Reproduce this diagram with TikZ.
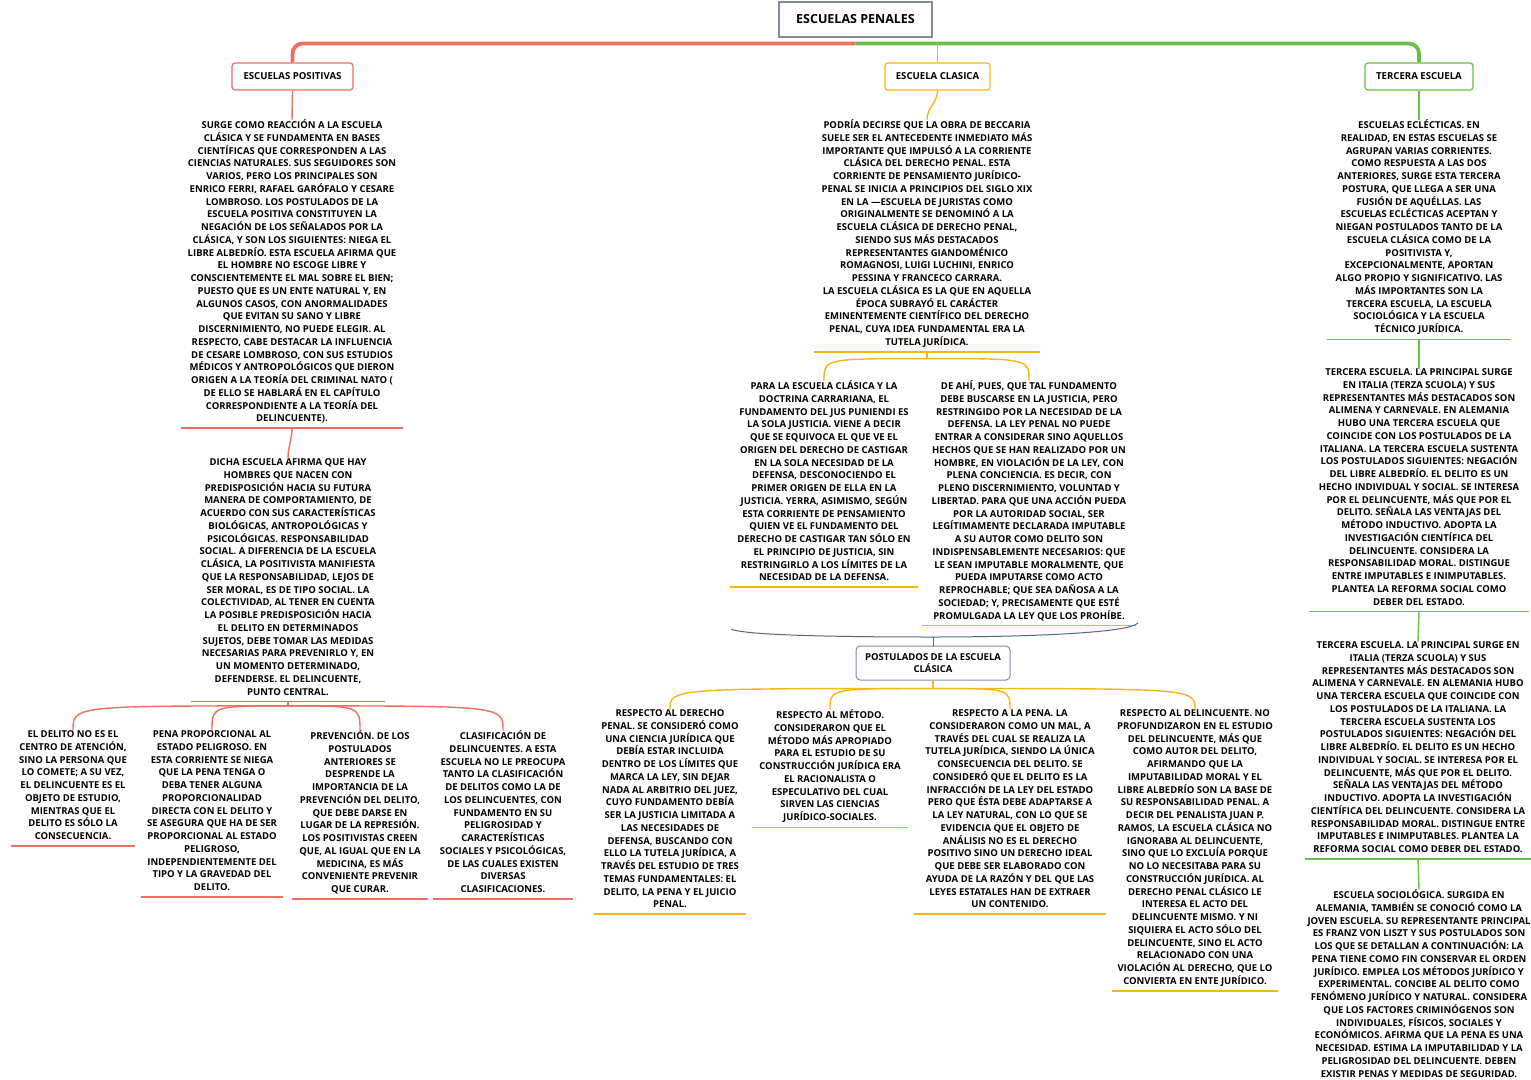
\documentclass[tikz,border=0pt]{standalone}
\usepackage{fontspec}
\setmainfont{Open Sans}
\usetikzlibrary{calc}
\definecolor{rojo}{RGB}{240,110,92}
\definecolor{oro}{RGB}{246,183,20}
\definecolor{verde}{RGB}{108,190,72}
\definecolor{gris}{RGB}{130,140,160}
\definecolor{pizarra}{RGB}{88,100,128}
\newcommand{\rayita}[2]{\draw[#1,line width=1.4pt] ($(#2.south west)+(0,4.5)$) -- ($(#2.south east)+(0,4.5)$);}

\begin{document}
\begin{tikzpicture}[x=1pt,y=-1pt]
  \tikzstyle{texto}=[font=\fontsize{9.5}{12.75}\selectfont\bfseries,align=center,inner sep=0pt,anchor=north,execute at begin node={\vphantom{Á}},execute at end node={\vphantom{(}}]
  \tikzstyle{caja}=[draw,rounded corners=3pt,line width=1.2pt,fill=white,font=\fontsize{9.6}{11}\selectfont\bfseries,minimum height=27pt,inner sep=0pt]
  \tikzstyle{rama}=[line width=1.4pt]
  \useasboundingbox[fill=white] (0,0) rectangle (1531,1079);

  \node[draw=gris,line width=1.1pt,minimum width=153pt,minimum height=35pt,font=\fontsize{12.5}{14}\selectfont\bfseries] (tit) at (855.5,19.5) {ESCUELAS PENALES};
  \node[caja,draw=rojo,minimum width=121pt] (pos) at (292.5,76.5) {ESCUELAS POSITIVAS};
  \node[caja,draw=oro,minimum width=105pt] (cla) at (937.5,76.5) {ESCUELA CLASICA};
  \node[caja,draw=verde,minimum width=108pt] (ter) at (1419,76.5) {TERCERA ESCUELA};

  \node[texto,minimum width=222pt] (l1) at (292,119.6) {SURGE COMO REACCIÓN A LA ESCUELA\\CLÁSICA Y SE FUNDAMENTA EN BASES\\CIENTÍFICAS QUE CORRESPONDEN A LAS\\CIENCIAS NATURALES. SUS SEGUIDORES SON\\VARIOS, PERO LOS PRINCIPALES SON\\ENRICO FERRI, RAFAEL GARÓFALO Y CESARE\\LOMBROSO. LOS POSTULADOS DE LA\\ESCUELA POSITIVA CONSTITUYEN LA\\NEGACIÓN DE LOS SEÑALADOS POR LA\\CLÁSICA, Y SON LOS SIGUIENTES: NIEGA EL\\LIBRE ALBEDRÍO. ESTA ESCUELA AFIRMA QUE\\EL HOMBRE NO ESCOGE LIBRE Y\\CONSCIENTEMENTE EL MAL SOBRE EL BIEN;\\PUESTO QUE ES UN ENTE NATURAL Y, EN\\ALGUNOS CASOS, CON ANORMALIDADES\\QUE EVITAN SU SANO Y LIBRE\\DISCERNIMIENTO, NO PUEDE ELEGIR. AL\\RESPECTO, CABE DESTACAR LA INFLUENCIA\\DE CESARE LOMBROSO, CON SUS ESTUDIOS\\MÉDICOS Y ANTROPOLÓGICOS QUE DIERON\\ORIGEN A LA TEORÍA DEL CRIMINAL NATO (\\DE ELLO SE HABLARÁ EN EL CAPÍTULO\\CORRESPONDIENTE A LA TEORÍA DEL\\DELINCUENTE).};
  \node[texto,minimum width=193pt] (l2) at (288,458.6) {DICHA ESCUELA AFIRMA QUE HAY\\HOMBRES QUE NACEN CON\\PREDISPOSICIÓN HACIA SU FUTURA\\MANERA DE COMPORTAMIENTO, DE\\ACUERDO CON SUS CARACTERÍSTICAS\\BIOLÓGICAS, ANTROPOLÓGICAS Y\\PSICOLÓGICAS. RESPONSABILIDAD\\SOCIAL. A DIFERENCIA DE LA ESCUELA\\CLÁSICA, LA POSITIVISTA MANIFIESTA\\QUE LA RESPONSABILIDAD, LEJOS DE\\SER MORAL, ES DE TIPO SOCIAL. LA\\COLECTIVIDAD, AL TENER EN CUENTA\\LA POSIBLE PREDISPOSICIÓN HACIA\\EL DELITO EN DETERMINADOS\\SUJETOS, DEBE TOMAR LAS MEDIDAS\\NECESARIAS PARA PREVENIRLO Y, EN\\UN MOMENTO DETERMINADO,\\DEFENDERSE. EL DELINCUENTE,\\PUNTO CENTRAL.};
  \node[texto,minimum width=123pt] (b1) at (73,730.6) {EL DELITO NO ES EL\\CENTRO DE ATENCIÓN,\\SINO LA PERSONA QUE\\LO COMETE; A SU VEZ,\\EL DELINCUENTE ES EL\\OBJETO DE ESTUDIO,\\MIENTRAS QUE EL\\DELITO ES SÓLO LA\\CONSECUENCIA.};
  \node[texto,minimum width=141pt] (b2) at (212,730.6) {PENA PROPORCIONAL AL\\ESTADO PELIGROSO. EN\\ESTA CORRIENTE SE NIEGA\\QUE LA PENA TENGA O\\DEBA TENER ALGUNA\\PROPORCIONALIDAD\\DIRECTA CON EL DELITO Y\\SE ASEGURA QUE HA DE SER\\PROPORCIONAL AL ESTADO\\PELIGROSO,\\INDEPENDIENTEMENTE DEL\\TIPO Y LA GRAVEDAD DEL\\DELITO.};
  \node[texto,minimum width=135pt] (b3) at (360,730.6) {PREVENCIÓN. DE LOS\\POSTULADOS\\ANTERIORES SE\\DESPRENDE LA\\IMPORTANCIA DE LA\\PREVENCIÓN DEL DELITO,\\QUE DEBE DARSE EN\\LUGAR DE LA REPRESIÓN.\\LOS POSITIVISTAS CREEN\\QUE, AL IGUAL QUE EN LA\\MEDICINA, ES MÁS\\CONVENIENTE PREVENIR\\QUE CURAR.};
  \node[texto,minimum width=139pt] (b4) at (503,730.6) {CLASIFICACIÓN DE\\DELINCUENTES. A ESTA\\ESCUELA NO LE PREOCUPA\\TANTO LA CLASIFICACIÓN\\DE DELITOS COMO LA DE\\LOS DELINCUENTES, CON\\FUNDAMENTO EN SU\\PELIGROSIDAD Y\\CARACTERÍSTICAS\\SOCIALES Y PSICOLÓGICAS,\\DE LAS CUALES EXISTEN\\DIVERSAS\\CLASIFICACIONES.};

  \node[texto,minimum width=225pt] (m1) at (927,119.6) {PODRÍA DECIRSE QUE LA OBRA DE BECCARIA\\SUELE SER EL ANTECEDENTE INMEDIATO MÁS\\IMPORTANTE QUE IMPULSÓ A LA CORRIENTE\\CLÁSICA DEL DERECHO PENAL. ESTA\\CORRIENTE DE PENSAMIENTO JURÍDICO-\\PENAL SE INICIA A PRINCIPIOS DEL SIGLO XIX\\EN LA ---ESCUELA DE JURISTAS COMO\\ORIGINALMENTE SE DENOMINÓ A LA\\ESCUELA CLÁSICA DE DERECHO PENAL,\\SIENDO SUS MÁS DESTACADOS\\REPRESENTANTES GIANDOMÉNICO\\ROMAGNOSI, LUIGI LUCHINI, ENRICO\\PESSINA Y FRANCECO CARRARA.\\LA ESCUELA CLÁSICA ES LA QUE EN AQUELLA\\ÉPOCA SUBRAYÓ EL CARÁCTER\\EMINENTEMENTE CIENTÍFICO DEL DERECHO\\PENAL, CUYA IDEA FUNDAMENTAL ERA LA\\TUTELA JURÍDICA.};
  \node[texto,minimum width=187pt] (m2) at (824,380.6) {PARA LA ESCUELA CLÁSICA Y LA\\DOCTRINA CARRARIANA, EL\\FUNDAMENTO DEL JUS PUNIENDI ES\\LA SOLA JUSTICIA. VIENE A DECIR\\QUE SE EQUIVOCA EL QUE VE EL\\ORIGEN DEL DERECHO DE CASTIGAR\\EN LA SOLA NECESIDAD DE LA\\DEFENSA, DESCONOCIENDO EL\\PRIMER ORIGEN DE ELLA EN LA\\JUSTICIA. YERRA, ASIMISMO, SEGÚN\\ESTA CORRIENTE DE PENSAMIENTO\\QUIEN VE EL FUNDAMENTO DEL\\DERECHO DE CASTIGAR TAN SÓLO EN\\EL PRINCIPIO DE JUSTICIA, SIN\\RESTRINGIRLO A LOS LÍMITES DE LA\\NECESIDAD DE LA DEFENSA.};
  \node[texto,minimum width=214pt] (m3) at (1029,380.6) {DE AHÍ, PUES, QUE TAL FUNDAMENTO\\DEBE BUSCARSE EN LA JUSTICIA, PERO\\RESTRINGIDO POR LA NECESIDAD DE LA\\DEFENSA. LA LEY PENAL NO PUEDE\\ENTRAR A CONSIDERAR SINO AQUELLOS\\HECHOS QUE SE HAN REALIZADO POR UN\\HOMBRE, EN VIOLACIÓN DE LA LEY, CON\\PLENA CONCIENCIA. ES DECIR, CON\\PLENO DISCERNIMIENTO, VOLUNTAD Y\\LIBERTAD. PARA QUE UNA ACCIÓN PUEDA\\POR LA AUTORIDAD SOCIAL, SER\\LEGÍTIMAMENTE DECLARADA IMPUTABLE\\A SU AUTOR COMO DELITO SON\\INDISPENSABLEMENTE NECESARIOS: QUE\\LE SEAN IMPUTABLE MORALMENTE, QUE\\PUEDA IMPUTARSE COMO ACTO\\REPROCHABLE; QUE SEA DAÑOSA A LA\\SOCIEDAD; Y, PRECISAMENTE QUE ESTÉ\\PROMULGADA LA LEY QUE LOS PROHÍBE.};
  \node[caja,draw=gris,line width=1pt,rounded corners=4pt,minimum width=154pt,minimum height=34pt,align=center,font=\fontsize{9.5}{12}\selectfont\bfseries] (post) at (933,663) {POSTULADOS DE LA ESCUELA\\CLÁSICA};
  \node[texto,minimum width=152pt] (p1) at (670,709.6) {RESPECTO AL DERECHO\\PENAL. SE CONSIDERÓ COMO\\UNA CIENCIA JURÍDICA QUE\\DEBÍA ESTAR INCLUIDA\\DENTRO DE LOS LÍMITES QUE\\MARCA LA LEY, SIN DEJAR\\NADA AL ARBITRIO DEL JUEZ,\\CUYO FUNDAMENTO DEBÍA\\SER LA JUSTICIA LIMITADA A\\LAS NECESIDADES DE\\DEFENSA, BUSCANDO CON\\ELLO LA TUTELA JURÍDICA, A\\TRAVÉS DEL ESTUDIO DE TRES\\TEMAS FUNDAMENTALES: EL\\DELITO, LA PENA Y EL JUICIO\\PENAL.};
  \node[texto,minimum width=156pt] (p2) at (830,709.6) {RESPECTO AL MÉTODO.\\CONSIDERARON QUE EL\\MÉTODO MÁS APROPIADO\\PARA EL ESTUDIO DE SU\\CONSTRUCCIÓN JURÍDICA ERA\\EL RACIONALISTA O\\ESPECULATIVO DEL CUAL\\SIRVEN LAS CIENCIAS\\JURÍDICO-SOCIALES.};
  \node[texto,minimum width=192pt] (p3) at (1010,709.6) {RESPECTO A LA PENA. LA\\CONSIDERARON COMO UN MAL, A\\TRAVÉS DEL CUAL SE REALIZA LA\\TUTELA JURÍDICA, SIENDO LA ÚNICA\\CONSECUENCIA DEL DELITO. SE\\CONSIDERÓ QUE EL DELITO ES LA\\INFRACCIÓN DE LA LEY DEL ESTADO\\PERO QUE ÉSTA DEBE ADAPTARSE A\\LA LEY NATURAL, CON LO QUE SE\\EVIDENCIA QUE EL OBJETO DE\\ANÁLISIS NO ES EL DERECHO\\POSITIVO SINO UN DERECHO IDEAL\\QUE DEBE SER ELABORADO CON\\AYUDA DE LA RAZÓN Y DEL QUE LAS\\LEYES ESTATALES HAN DE EXTRAER\\UN CONTENIDO.};
  \node[texto,minimum width=166pt] (p4) at (1195,709.6) {RESPECTO AL DELINCUENTE. NO\\PROFUNDIZARON EN EL ESTUDIO\\DEL DELINCUENTE, MÁS QUE\\COMO AUTOR DEL DELITO,\\AFIRMANDO QUE LA\\IMPUTABILIDAD MORAL Y EL\\LIBRE ALBEDRÍO SON LA BASE DE\\SU RESPONSABILIDAD PENAL. A\\DECIR DEL PENALISTA JUAN P.\\RAMOS, LA ESCUELA CLÁSICA NO\\IGNORABA AL DELINCUENTE,\\SINO QUE LO EXCLUÍA PORQUE\\NO LO NECESITABA PARA SU\\CONSTRUCCIÓN JURÍDICA. AL\\DERECHO PENAL CLÁSICO LE\\INTERESA EL ACTO DEL\\DELINCUENTE MISMO. Y NI\\SIQUIERA EL ACTO SÓLO DEL\\DELINCUENTE, SINO EL ACTO\\RELACIONADO CON UNA\\VIOLACIÓN AL DERECHO, QUE LO\\CONVIERTA EN ENTE JURÍDICO.};

  \node[texto,minimum width=183pt] (r1) at (1419,119.6) {ESCUELAS ECLÉCTICAS. EN\\REALIDAD, EN ESTAS ESCUELAS SE\\AGRUPAN VARIAS CORRIENTES.\\COMO RESPUESTA A LAS DOS\\ANTERIORES, SURGE ESTA TERCERA\\POSTURA, QUE LLEGA A SER UNA\\FUSIÓN DE AQUÉLLAS. LAS\\ESCUELAS ECLÉCTICAS ACEPTAN Y\\NIEGAN POSTULADOS TANTO DE LA\\ESCUELA CLÁSICA COMO DE LA\\POSITIVISTA Y,\\EXCEPCIONALMENTE, APORTAN\\ALGO PROPIO Y SIGNIFICATIVO. LAS\\MÁS IMPORTANTES SON LA\\TERCERA ESCUELA, LA ESCUELA\\SOCIOLÓGICA Y LA ESCUELA\\TÉCNICO JURÍDICA.};
  \node[texto,minimum width=219pt] (r2) at (1419,368.6) {TERCERA ESCUELA. LA PRINCIPAL SURGE\\EN ITALIA (TERZA SCUOLA) Y SUS\\REPRESENTANTES MÁS DESTACADOS SON\\ALIMENA Y CARNEVALE. EN ALEMANIA\\HUBO UNA TERCERA ESCUELA QUE\\COINCIDE CON LOS POSTULADOS DE LA\\ITALIANA. LA TERCERA ESCUELA SUSTENTA\\LOS POSTULADOS SIGUIENTES: NEGACIÓN\\DEL LIBRE ALBEDRÍO. EL DELITO ES UN\\HECHO INDIVIDUAL Y SOCIAL. SE INTERESA\\POR EL DELINCUENTE, MÁS QUE POR EL\\DELITO. SEÑALA LAS VENTAJAS DEL\\MÉTODO INDUCTIVO. ADOPTA LA\\INVESTIGACIÓN CIENTÍFICA DEL\\DELINCUENTE. CONSIDERA LA\\RESPONSABILIDAD MORAL. DISTINGUE\\ENTRE IMPUTABLES E INIMPUTABLES.\\PLANTEA LA REFORMA SOCIAL COMO\\DEBER DEL ESTADO.};
  \node[texto,minimum width=226pt] (r3) at (1418,641.6) {TERCERA ESCUELA. LA PRINCIPAL SURGE EN\\ITALIA (TERZA SCUOLA) Y SUS\\REPRESENTANTES MÁS DESTACADOS SON\\ALIMENA Y CARNEVALE. EN ALEMANIA HUBO\\UNA TERCERA ESCUELA QUE COINCIDE CON\\LOS POSTULADOS DE LA ITALIANA. LA\\TERCERA ESCUELA SUSTENTA LOS\\POSTULADOS SIGUIENTES: NEGACIÓN DEL\\LIBRE ALBEDRÍO. EL DELITO ES UN HECHO\\INDIVIDUAL Y SOCIAL. SE INTERESA POR EL\\DELINCUENTE, MÁS QUE POR EL DELITO.\\SEÑALA LAS VENTAJAS DEL MÉTODO\\INDUCTIVO. ADOPTA LA INVESTIGACIÓN\\CIENTÍFICA DEL DELINCUENTE. CONSIDERA LA\\RESPONSABILIDAD MORAL. DISTINGUE ENTRE\\IMPUTABLES E INIMPUTABLES. PLANTEA LA\\REFORMA SOCIAL COMO DEBER DEL ESTADO.};
  \node[texto,minimum width=226pt] (r4) at (1419,889.6) {ESCUELA SOCIOLÓGICA. SURGIDA EN\\ALEMANIA, TAMBIÉN SE CONOCIÓ COMO LA\\JOVEN ESCUELA. SU REPRESENTANTE PRINCIPAL\\ES FRANZ VON LISZT Y SUS POSTULADOS SON\\LOS QUE SE DETALLAN A CONTINUACIÓN: LA\\PENA TIENE COMO FIN CONSERVAR EL ORDEN\\JURÍDICO. EMPLEA LOS MÉTODOS JURÍDICO Y\\EXPERIMENTAL. CONCIBE AL DELITO COMO\\FENÓMENO JURÍDICO Y NATURAL. CONSIDERA\\QUE LOS FACTORES CRIMINÓGENOS SON\\INDIVIDUALES, FÍSICOS, SOCIALES Y\\ECONÓMICOS. AFIRMA QUE LA PENA ES UNA\\NECESIDAD. ESTIMA LA IMPUTABILIDAD Y LA\\PELIGROSIDAD DEL DELINCUENTE. DEBEN\\EXISTIR PENAS Y MEDIDAS DE SEGURIDAD.};

  \coordinate (hub) at ($(tit.south)+(0,6)$);
  \draw[rojo,line width=3.8pt,rounded corners=10pt] (hub) -| (pos.north);
  \draw[verde,line width=3.8pt,rounded corners=10pt] (hub) -| (ter.north);
  \draw[oro,line width=1.6pt] (cla.north) -- (cla.north |- hub);

  \draw[rojo,rama] (pos.south) -- (l1.north);
  \rayita{rojo}{l1}
  \draw[rojo,rama] ($(l1.south)+(0,4.5)$) .. controls +(0,12) and +(0,-12) .. (l2.north);
  \rayita{rojo}{l2}
  \coordinate (hb) at ($(l2.south)+(0,9)$);
  \draw[rojo,rama] ($(l2.south)+(0,4.5)$) -- (hb);
  \foreach \n in {b1,b2,b3,b4} {
    \draw[rojo,rama] (hb) .. controls (\n.north |- hb) .. (\n.north);
    \rayita{rojo}{\n}
  }

  \draw[oro,rama] (cla.south) .. controls +(0,12) and +(0,-12) .. (m1.north);
  \rayita{oro}{m1}
  \coordinate (hm) at ($(m1.south)+(0,11)$);
  \draw[oro,rama] ($(m1.south)+(0,4.5)$) -- (hm);
  \foreach \n in {m2,m3} {
    \draw[oro,rama] (hm) .. controls (\n.north |- hm) .. (\n.north);
    \rayita{oro}{\n}
  }
  \coordinate (sl) at (731,629);
  \coordinate (sr) at (1138,623);
  \coordinate (sm) at (933,637);
  \draw[pizarra,line width=1pt] (sl) .. controls (745,636) and (860,637) .. (sm) .. controls (1010,637) and (1128,634) .. (sr);
  \draw[pizarra,line width=1pt] (sm) -- (post.north);

  \coordinate (hp) at ($(post.south)+(0,8)$);
  \draw[oro,rama] (post.south) -- (hp);
  \foreach \n in {p1,p2,p3,p4} {
    \draw[oro,rama] (hp) .. controls (\n.north |- hp) .. (\n.north);
    \rayita{oro}{\n}
  }

  \draw[verde,rama] (ter.south) -- (r1.north);
  \rayita{verde}{r1}
  \draw[verde,rama] ($(r1.south)+(0,4.5)$) -- (r2.north);
  \rayita{verde}{r2}
  \draw[verde,rama] ($(r2.south)+(0,4.5)$) -- (r3.north);
  \rayita{verde}{r3}
  \draw[verde,rama] ($(r3.south)+(0,4.5)$) -- (r4.north);
\end{tikzpicture}
\end{document}
